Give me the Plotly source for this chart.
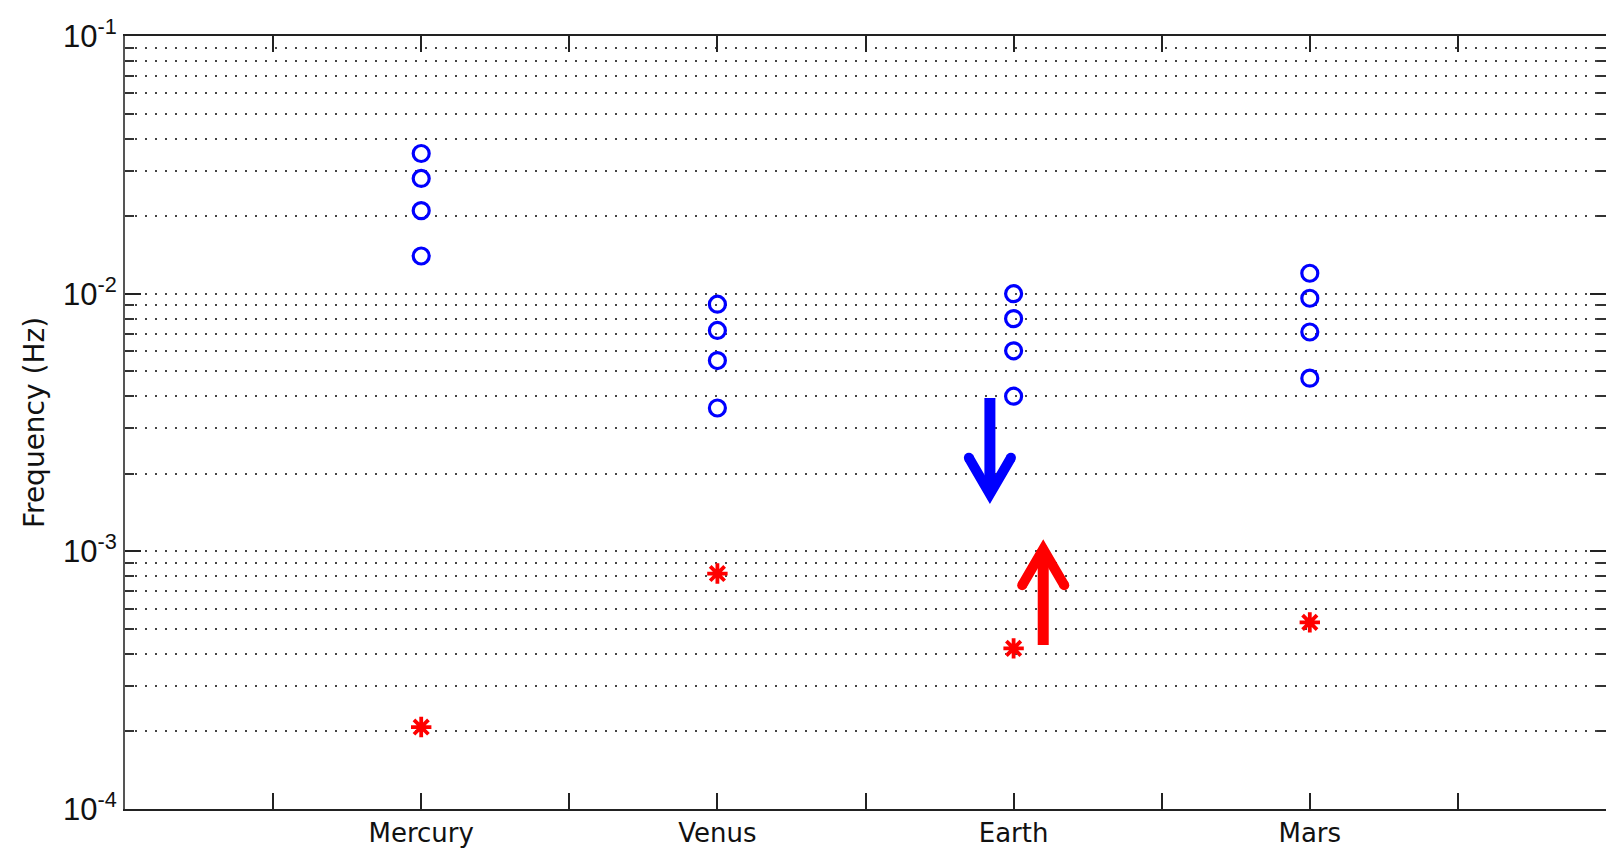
import plotly.graph_objects as go

# ---------------- data ----------------
planets = ["Mercury", "Venus", "Earth", "Mars"]
planet_x = [1, 2, 3, 4]

# blue circles: four modes per planet (Hz)
mercury_modes = [0.035, 0.028, 0.021, 0.014]
venus_modes = [0.0091, 0.0072, 0.0055, 0.0036]
earth_modes = [0.0100, 0.0080, 0.0060, 0.0040]
mars_modes = [0.0120, 0.0096, 0.0071, 0.0047]

# red stars: one value per planet (Hz)
star_values = [0.000208, 0.00082, 0.00042, 0.00053]

# arrows (annotations): x, tail, tip
arrow_x = [2.92, 3.10]
arrow_tail = [0.00394, 0.000433]
arrow_tip = [0.00167, 0.00102]
arrow_colors = ["#0000ff", "#ff0000"]
head_halfwidth = 0.071     # x units
head_log_len = 0.14        # decades

y_tick_vals = [1e-4, 1e-3, 1e-2, 1e-1]
y_tick_text = ["10<sup>-4</sup>", "10<sup>-3</sup>", "10<sup>-2</sup>", "10<sup>-1</sup>"]
y_minor_vals = [m * 10 ** e for e in (-4, -3, -2) for m in range(2, 10)]
x_minor_vals = [0.5, 1.5, 2.5, 3.5, 4.5]

# ---------------- figure ----------------
fig = go.Figure()

mode_sets = [mercury_modes, venus_modes, earth_modes, mars_modes]
cx, cy = [], []
for xv, modes in zip(planet_x, mode_sets):
    cx += [xv] * len(modes)
    cy += modes

fig.add_trace(go.Scatter(
    x=cx, y=cy, mode="markers",
    marker=dict(symbol="circle-open", size=16, color="#0000ff",
                line=dict(width=3.2, color="#0000ff")),
    hoverinfo="skip"))

fig.add_trace(go.Scatter(
    x=planet_x, y=star_values, mode="markers",
    marker=dict(symbol="asterisk-open", size=17, color="#ff0000",
                line=dict(width=3.8, color="#ff0000")),
    hoverinfo="skip"))

for ax_, tail, tip, col in zip(arrow_x, arrow_tail, arrow_tip, arrow_colors):
    direction = 1 if tail > tip else -1   # 1: pointing down
    arm_y = tip * 10 ** (direction * head_log_len)
    fig.add_trace(go.Scatter(x=[ax_, ax_], y=[tail, tip], mode="lines",
                             line=dict(color=col, width=11), hoverinfo="skip"))
    fig.add_trace(go.Scatter(x=[ax_ - head_halfwidth, ax_, ax_ + head_halfwidth],
                             y=[arm_y, tip, arm_y], mode="lines",
                             line=dict(color=col, width=10), hoverinfo="skip"))
    fig.add_trace(go.Scatter(x=[ax_ - head_halfwidth, ax_ + head_halfwidth],
                             y=[arm_y, arm_y], mode="markers",
                             marker=dict(symbol="circle", size=10, color=col),
                             hoverinfo="skip"))

# invisible trace to activate the right-hand tick axis
fig.add_trace(go.Scatter(x=[planet_x[0]], y=[star_values[0]], yaxis="y2",
                         mode="markers", marker=dict(opacity=0),
                         hoverinfo="skip", showlegend=False))

grid_dash = "2px,8px"
minor_y = dict(tickmode="array", tickvals=y_minor_vals, ticks="inside",
               ticklen=9, tickwidth=2, tickcolor="#333")
fig.update_layout(
    width=1606, height=851,
    margin=dict(l=125, r=0, t=36, b=42),
    paper_bgcolor="white", plot_bgcolor="white",
    showlegend=False,
    font=dict(family="DejaVu Sans, Liberation Sans, Arial", color="#111111"),
    xaxis=dict(
        range=[0, 5],
        tickmode="array", tickvals=planet_x, ticktext=planets,
        ticks="inside", ticklen=16, tickwidth=2, tickcolor="#222",
        tickfont=dict(size=26, family="DejaVu Sans"),
        showgrid=False, zeroline=False,
        showline=True, linecolor="#222", linewidth=2, mirror="ticks",
        minor=dict(tickmode="array", tickvals=x_minor_vals, ticks="inside",
                   ticklen=16, tickwidth=2, tickcolor="#222", showgrid=False),
    ),
    yaxis=dict(
        type="log", range=[-4, -1],
        tickmode="array", tickvals=y_tick_vals, ticktext=y_tick_text,
        ticks="inside", ticklen=16, tickwidth=2, tickcolor="#222",
        tickfont=dict(size=31, family="Liberation Sans"),
        showgrid=True, gridcolor="#444", gridwidth=2, griddash=grid_dash,
        zeroline=False,
        showline=True, linecolor="#555", linewidth=2, mirror=False,
        title=dict(text="Frequency (Hz)", font=dict(size=28, family="DejaVu Sans"),
                   standoff=10),
        minor=dict(**minor_y, showgrid=True, gridcolor="#444", gridwidth=2,
                   griddash=grid_dash),
    ),
    yaxis2=dict(
        type="log", range=[-4, -1], overlaying="y", side="right",
        tickmode="array", tickvals=y_tick_vals, showticklabels=False,
        ticks="inside", ticklen=16, tickwidth=2, tickcolor="#222",
        showgrid=False, zeroline=False, showline=False,
        minor=dict(**minor_y, showgrid=False),
    ),
)

fig.write_html("out.html")
